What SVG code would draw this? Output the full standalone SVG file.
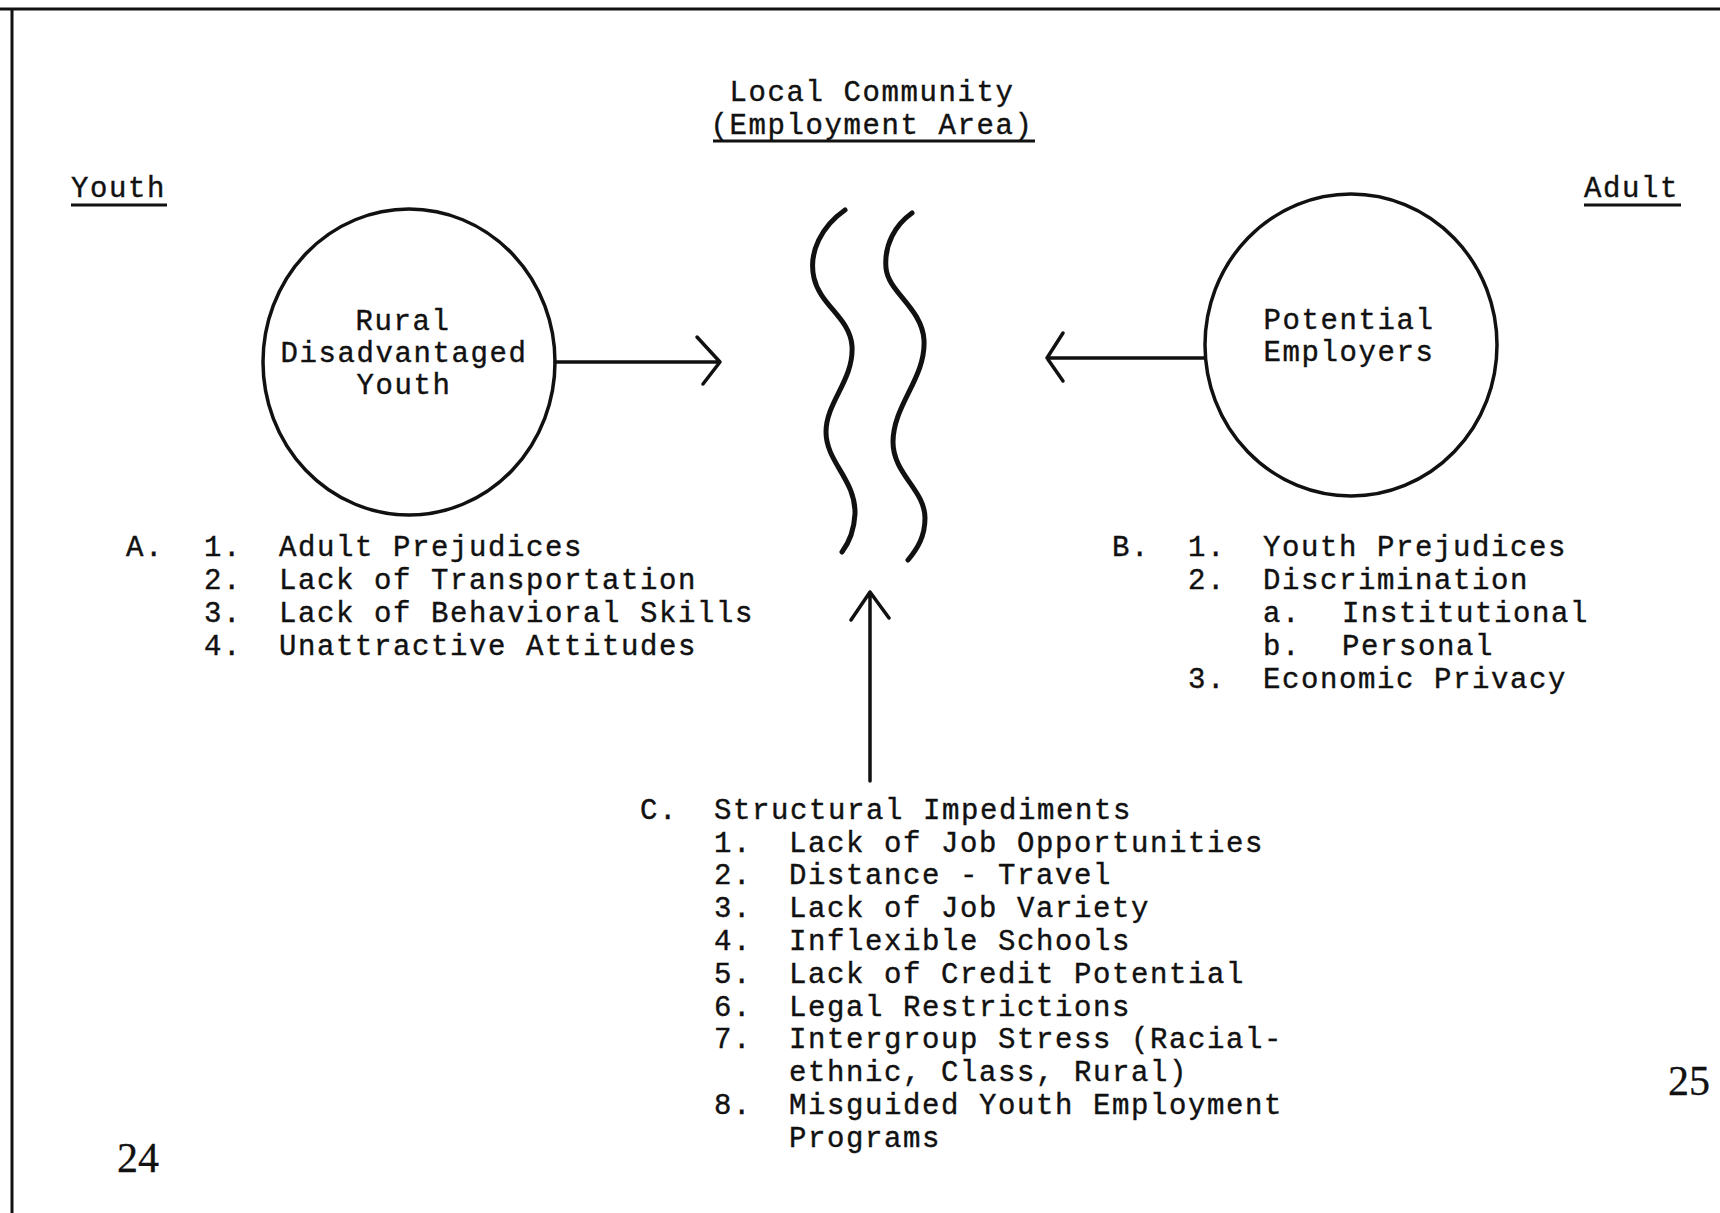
<svg xmlns="http://www.w3.org/2000/svg" width="1720" height="1213" viewBox="0 0 1720 1213">
<style>
text{font-family:"Liberation Mono","Courier New",monospace;font-size:29px;letter-spacing:1.6px;fill:#111;stroke:#111;stroke-width:0.4}
.pg{font-family:"Liberation Serif","Times New Roman",serif;font-size:42px;letter-spacing:0;stroke-width:0.3}
.ln{stroke:#111;stroke-width:3;fill:none}
.wv{stroke:#111;stroke-width:5;fill:none;stroke-linecap:round}
.ar{stroke:#111;stroke-width:3.5;fill:none;stroke-linecap:round;stroke-linejoin:round}
.nd{stroke:#111;stroke-width:3.5;fill:#fff}
</style>
<rect width="1720" height="1213" fill="#fff"/>
<g id="frame">
<line class="ln" x1="0" y1="9" x2="1720" y2="9"/>
<line class="ln" x1="12" y1="9" x2="12" y2="1213"/>
</g>
<g id="titles">
<text x="872" y="101" text-anchor="middle">Local Community</text>
<text x="872" y="134" text-anchor="middle">(Employment Area)</text>
<line class="ln" x1="713" y1="141" x2="1035" y2="141"/>
<text x="71" y="197">Youth</text>
<line class="ln" x1="71" y1="205" x2="167" y2="205"/>
<text x="1584" y="197">Adult</text>
<line class="ln" x1="1584" y1="205" x2="1681" y2="205"/>
</g>
<g id="youth-node">
<ellipse class="nd" cx="409" cy="362" rx="146" ry="153"/>
<text x="403" y="330" text-anchor="middle">Rural</text>
<text x="404" y="362" text-anchor="middle">Disadvantaged</text>
<text x="404" y="394" text-anchor="middle">Youth</text>
</g>
<g id="employers-node">
<ellipse class="nd" cx="1351" cy="345" rx="146" ry="151"/>
<text x="1349" y="329" text-anchor="middle">Potential</text>
<text x="1349" y="361" text-anchor="middle">Employers</text>
</g>
<g id="community-boundary">
<path class="wv" d="M845,210 C822,226 808,252 814,278 C820,305 850,318 852,346 C854,380 826,402 826,432 C826,462 856,480 855,514 C854,532 848,544 842,552"/>
<path class="wv" d="M912,213 C895,225 884,245 886,268 C888,292 922,308 924,340 C926,378 893,405 893,442 C893,474 925,490 925,518 C925,536 918,548 908,560"/>
</g>
<g id="connectors">
<path class="ar" d="M555,362 H720 M697,337 L720,362 L703,384"/>
<path class="ar" d="M1205,358 H1047 M1063,333 L1047,358 L1063,381"/>
<path class="ar" d="M870,781 V592 M851,620 L870,592 L889,618"/>
</g>
<g id="list-a">
<text x="126" y="556">A.</text>
<text x="204" y="556">1.</text><text x="279" y="556">Adult Prejudices</text>
<text x="204" y="589">2.</text><text x="279" y="589">Lack of Transportation</text>
<text x="204" y="622">3.</text><text x="279" y="622">Lack of Behavioral Skills</text>
<text x="204" y="655">4.</text><text x="279" y="655">Unattractive Attitudes</text>
</g>
<g id="list-b">
<text x="1112" y="556">B.</text>
<text x="1188" y="556">1.</text><text x="1263" y="556">Youth Prejudices</text>
<text x="1188" y="589">2.</text><text x="1263" y="589">Discrimination</text>
<text x="1263" y="622">a.</text><text x="1342" y="622">Institutional</text>
<text x="1263" y="655">b.</text><text x="1342" y="655">Personal</text>
<text x="1188" y="688">3.</text><text x="1263" y="688">Economic Privacy</text>
</g>
<g id="list-c">
<text x="640" y="819">C.</text><text x="714" y="819">Structural Impediments</text>
<text x="714" y="852">1.</text><text x="789" y="852">Lack of Job Opportunities</text>
<text x="714" y="884">2.</text><text x="789" y="884">Distance - Travel</text>
<text x="714" y="917">3.</text><text x="789" y="917">Lack of Job Variety</text>
<text x="714" y="950">4.</text><text x="789" y="950">Inflexible Schools</text>
<text x="714" y="983">5.</text><text x="789" y="983">Lack of Credit Potential</text>
<text x="714" y="1016">6.</text><text x="789" y="1016">Legal Restrictions</text>
<text x="714" y="1048">7.</text><text x="789" y="1048">Intergroup Stress (Racial-</text>
<text x="789" y="1081">ethnic, Class, Rural)</text>
<text x="714" y="1114">8.</text><text x="789" y="1114">Misguided Youth Employment</text>
<text x="789" y="1147">Programs</text>
</g>
<g id="page-numbers">
<text class="pg" x="117" y="1172">24</text>
<text class="pg" x="1668" y="1095">25</text>
</g>
</svg>
